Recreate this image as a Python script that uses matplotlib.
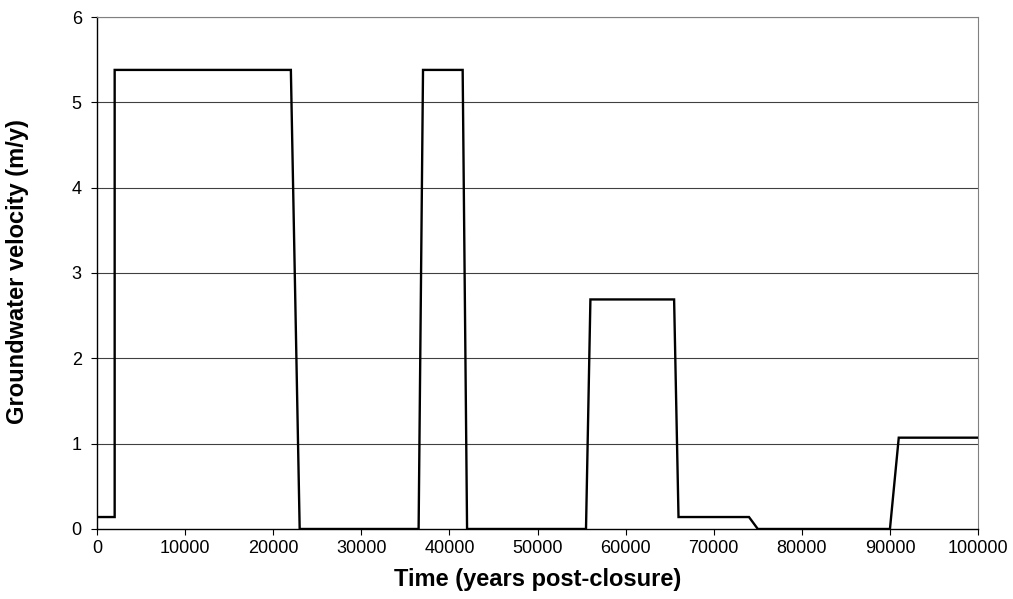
import matplotlib.pyplot as plt

plt.rcParams['font.family'] = ['Liberation Sans', 'DejaVu Sans']

# Groundwater velocity history (years post-closure, m/y)
time_years = [0, 2000, 2000, 22000, 23000, 36500, 37000, 41500, 42000,
              55500, 56000, 65500, 66000, 74000, 75000, 90000, 91000, 100000]
velocity = [0.14, 0.14, 5.38, 5.38, 0.0, 0.0, 5.38, 5.38, 0.0,
            0.0, 2.69, 2.69, 0.14, 0.14, 0.0, 0.0, 1.07, 1.07]

x_ticks = list(range(0, 100001, 10000))
y_ticks = [0, 1, 2, 3, 4, 5, 6]

fig = plt.figure(figsize=(10.13, 5.99), dpi=100)
ax = fig.add_axes([0.0958, 0.1169, 0.8697, 0.8547])

for y in y_ticks[1:]:
    ax.axhline(y, color='#000000', lw=0.8, alpha=0.75, zorder=1)

ax.plot(time_years, velocity, color='black', lw=1.7, zorder=3,
        solid_joinstyle='miter')

ax.set_xlim(0, 100000)
ax.set_ylim(0, 6)
ax.set_xticks(x_ticks)
ax.set_yticks(y_ticks)
ax.tick_params(direction='out', length=4, width=0.8, labelsize=13)
ax.tick_params(axis='x', pad=4)
ax.tick_params(axis='y', pad=7)

for side in ['top', 'right']:
    ax.spines[side].set_color('#808080')
    ax.spines[side].set_linewidth(0.8)
for side in ['left', 'bottom']:
    ax.spines[side].set_color('black')
    ax.spines[side].set_linewidth(1.0)

ax.set_xlabel('Time (years post-closure)', fontsize=17, fontweight='bold', va='center')
ax.set_ylabel('Groundwater velocity (m/y)', fontsize=17, fontweight='bold', va='center')
ax.xaxis.set_label_coords(0.5, -0.0996)
ax.yaxis.set_label_coords(-0.0908, 0.503)

fig.savefig('out.png', dpi=100)
